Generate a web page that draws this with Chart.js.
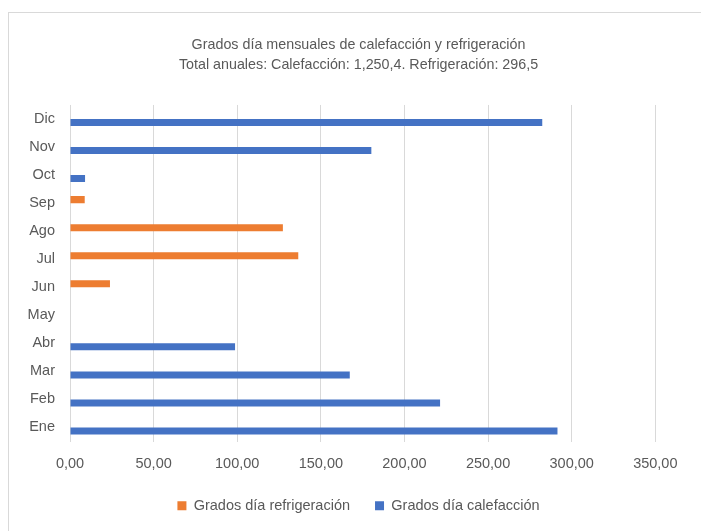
<!DOCTYPE html>
<html>
<head>
<meta charset="utf-8">
<script src="https://cdn.jsdelivr.net/npm/chart.js@4"></script>
<style>
  html, body { margin: 0; padding: 0; overflow: hidden; background: #fff; }
  #wrap { position: relative; width: 708px; height: 531px; }
</style>
</head>
<body>
<div id="wrap"><canvas id="gradosChart"></canvas></div>
<script>
// data
const months = ['Ene', 'Feb', 'Mar', 'Abr', 'May', 'Jun', 'Jul', 'Ago', 'Sep', 'Oct', 'Nov', 'Dic'];
const refrigeracion = [0, 0, 0, 0, 0, 23.9, 136.5, 127.3, 8.8, 0, 0, 0];
const calefaccion = [291.5, 221.3, 167.3, 98.7, 0, 0, 0, 0, 0, 9.0, 180.2, 282.4];
const titleLines = [
    'Grados día mensuales de calefacción y refrigeración',
    'Total anuales: Calefacción: 1,250,4. Refrigeración: 296,5'
];
const xMin = 0;
const xMax = 350;
const xStep = 50;

const textColor = '#595959';
const fontFamily = '"Liberation Sans", Arial, sans-serif';

// light frame around the chart object (right/bottom run off the picture)
const framePlugin = {
    id: 'frame',
    beforeDraw(chart) {
        const ctx = chart.ctx;
        ctx.save();
        ctx.strokeStyle = '#d9d9d9';
        ctx.lineWidth = 1;
        ctx.strokeRect(8.5, 12.5, 699, 530);
        ctx.restore();
    }
};

const ctx = document.getElementById('gradosChart').getContext('2d');
new Chart(ctx, {
    type: 'bar',
    data: {
        labels: months,
        datasets: [
            {
                label: 'Grados día refrigeración',
                data: refrigeracion,
                backgroundColor: '#ED7D31',
                borderWidth: 0
            },
            {
                label: 'Grados día calefacción',
                data: calefaccion,
                backgroundColor: '#4472C4',
                borderWidth: 0
            }
        ]
    },
    options: {
        indexAxis: 'y',
        responsive: true,
        maintainAspectRatio: false,
        animation: false,
        categoryPercentage: 0.5,
        barPercentage: 1.0,
        layout: {
            padding: { top: 12, left: 9, right: 0, bottom: 8 }
        },
        plugins: {
            title: {
                display: true,
                text: titleLines,
                color: textColor,
                font: { family: fontFamily, size: 14.3, weight: 'normal', lineHeight: 1.37 },
                padding: { top: 23.7, bottom: 30.1 }
            },
            legend: {
                position: 'bottom',
                labels: {
                    color: textColor,
                    font: { family: fontFamily, size: 14.5 },
                    boxWidth: 9,
                    boxHeight: 9,
                    padding: 25
                }
            },
            tooltip: { enabled: false }
        },
        scales: {
            x: {
                min: xMin,
                max: xMax,
                grid: { color: '#d9d9d9', lineWidth: 1, drawTicks: false },
                border: { display: false },
                ticks: {
                    stepSize: xStep,
                    color: textColor,
                    font: { family: fontFamily, size: 14.5 },
                    padding: 14,
                    maxRotation: 0,
                    callback: value => value.toFixed(2).replace('.', ',')
                },
                afterFit(scale) {
                    scale.height = 32;
                }
            },
            y: {
                reverse: true,
                grid: { display: false, drawTicks: false },
                border: { display: false },
                ticks: {
                    color: textColor,
                    font: { family: fontFamily, size: 14.5 },
                    padding: 15
                },
                afterFit(scale) {
                    scale.width = 61;
                }
            },
            // empty box on the right so the plot ends at 350 while title/legend stay centred
            y2: {
                type: 'linear',
                position: 'right',
                grid: { display: false, drawTicks: false },
                border: { display: false },
                ticks: { display: false },
                afterFit(scale) {
                    scale.width = 52.7;
                }
            }
        }
    },
    plugins: [framePlugin]
});
</script>
</body>
</html>
